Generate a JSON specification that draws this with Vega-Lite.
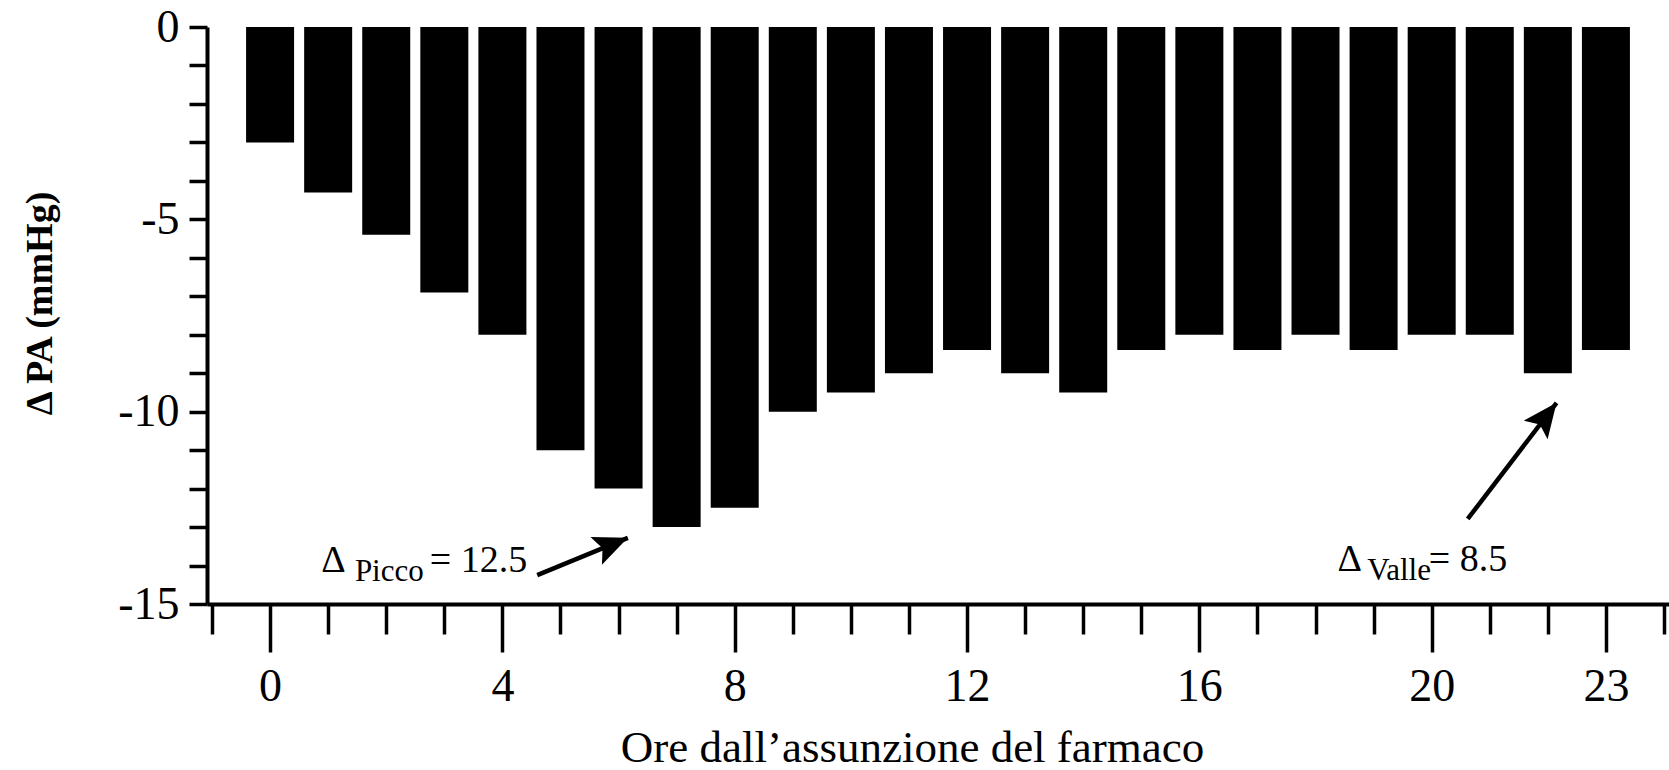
{
  "$schema": "https://vega.github.io/schema/vega-lite/v6.json",
  "width": 1462,
  "height": 577,
  "autosize": {"type": "none"},
  "padding": {"left": 207, "top": 27, "right": 0, "bottom": 166},
  "background": "white",
  "config": {
    "view": {"stroke": null},
    "font": "Liberation Serif",
    "axis": {"grid": false, "domainColor": "black", "tickColor": "black", "labelColor": "black", "titleColor": "black"}
  },
  "datasets": {
    "hours": [
      {"ora": 0, "delta": -3.0},
      {"ora": 1, "delta": -4.3},
      {"ora": 2, "delta": -5.4},
      {"ora": 3, "delta": -6.9},
      {"ora": 4, "delta": -8.0},
      {"ora": 5, "delta": -11.0},
      {"ora": 6, "delta": -12.0},
      {"ora": 7, "delta": -13.0},
      {"ora": 8, "delta": -12.5},
      {"ora": 9, "delta": -10.0},
      {"ora": 10, "delta": -9.5},
      {"ora": 11, "delta": -9.0},
      {"ora": 12, "delta": -8.4},
      {"ora": 13, "delta": -9.0},
      {"ora": 14, "delta": -9.5},
      {"ora": 15, "delta": -8.4},
      {"ora": 16, "delta": -8.0},
      {"ora": 17, "delta": -8.4},
      {"ora": 18, "delta": -8.0},
      {"ora": 19, "delta": -8.4},
      {"ora": 20, "delta": -8.0},
      {"ora": 21, "delta": -8.0},
      {"ora": 22, "delta": -9.0},
      {"ora": 23, "delta": -8.4}
    ],
    "arrows": [
      {"name": "picco", "x": 4.6, "y": -14.25, "x2": 6.16, "y2": -13.28},
      {"name": "valle", "x": 20.62, "y": -12.79, "x2": 22.15, "y2": -9.77}
    ],
    "labels": [
      {"x": 0.88, "y": -14.17, "text": "Δ"},
      {"x": 2.75, "y": -14.17, "text": "= 12.5"},
      {"x": 18.38, "y": -14.15, "text": "Δ"},
      {"x": 19.95, "y": -14.15, "text": "= 8.5"}
    ],
    "subscripts": [
      {"x": 1.46, "y": -14.39, "text": "Picco"},
      {"x": 18.89, "y": -14.37, "text": "Valle"}
    ]
  },
  "layer": [
    {
      "data": {"name": "hours"},
      "mark": {"type": "bar", "color": "black", "size": 48},
      "encoding": {
        "x": {
          "field": "ora",
          "type": "quantitative",
          "scale": {"domain": [-1, 24], "nice": false, "zero": false},
          "axis": {
            "orient": "bottom",
            "values": [-1, 0, 1, 2, 3, 4, 5, 6, 7, 8, 9, 10, 11, 12, 13, 14, 15, 16, 17, 18, 19, 20, 21, 22, 23, 24],
            "tickCount": 40,
            "labelExpr": "((datum.value >= 0 && datum.value <= 20 && datum.value % 4 === 0) || datum.value === 23) ? toString(datum.value) : ''",
            "tickSize": {"condition": {"test": "(datum.value >= 0 && datum.value <= 20 && datum.value % 4 === 0) || datum.value === 23", "value": 48}, "value": 30},
            "tickWidth": 3.5,
            "domainWidth": 4,
            "labelFontSize": 46,
            "labelPadding": 12,
            "labelFlush": false,
            "labelOverlap": false,
            "title": "Ore dall’assunzione del farmaco",
            "titleFontSize": 45,
            "titleFontWeight": "normal",
            "titleBaseline": "alphabetic",
            "titleX": 705,
            "titleY": 157
          }
        },
        "y": {
          "field": "delta",
          "type": "quantitative",
          "scale": {"domain": [-15, 0], "nice": false},
          "axis": {
            "orient": "left",
            "values": [-15, -14, -13, -12, -11, -10, -9, -8, -7, -6, -5, -4, -3, -2, -1, 0],
            "tickCount": 30,
            "labelExpr": "datum.value % 5 === 0 ? toString(datum.value) : ''",
            "tickSize": 18,
            "tickWidth": 3.5,
            "domainWidth": 4,
            "labelFontSize": 46,
            "labelPadding": 10,
            "labelOverlap": false,
            "labelFlush": false,
            "title": "Δ PA (mmHg)",
            "titleFontSize": 38,
            "titleFontWeight": "bold",
            "titleAngle": -90,
            "titleBaseline": "alphabetic",
            "titleAlign": "center",
            "titleX": -156,
            "titleY": 276
          }
        }
      }
    },
    {
      "mark": {"type": "rule", "color": "black", "strokeWidth": 4},
      "encoding": {"y": {"datum": 0, "type": "quantitative"}}
    },
    {
      "data": {"name": "arrows"},
      "mark": {"type": "rule", "color": "black", "strokeWidth": 4.5},
      "encoding": {
        "x": {"field": "x", "type": "quantitative"},
        "y": {"field": "y", "type": "quantitative"},
        "x2": {"field": "x2"},
        "y2": {"field": "y2"}
      }
    },
    {
      "data": {"name": "arrows"},
      "transform": [{"filter": "datum.name === 'picco'"}],
      "mark": {"type": "point", "filled": true, "color": "black", "opacity": 1, "shape": "M0,0 L-0.55,1.25 L0,1.0 L0.55,1.25 Z", "size": 3000, "angle": 67.6},
      "encoding": {
        "x": {"field": "x2", "type": "quantitative"},
        "y": {"field": "y2", "type": "quantitative"}
      }
    },
    {
      "data": {"name": "arrows"},
      "transform": [{"filter": "datum.name === 'valle'"}],
      "mark": {"type": "point", "filled": true, "color": "black", "opacity": 1, "shape": "M0,0 L-0.55,1.25 L0,1.0 L0.55,1.25 Z", "size": 3000, "angle": 37.6},
      "encoding": {
        "x": {"field": "x2", "type": "quantitative"},
        "y": {"field": "y2", "type": "quantitative"}
      }
    },
    {
      "data": {"name": "labels"},
      "mark": {"type": "text", "align": "left", "baseline": "alphabetic", "fontSize": 38, "color": "black", "font": "Liberation Serif"},
      "encoding": {
        "x": {"field": "x", "type": "quantitative"},
        "y": {"field": "y", "type": "quantitative"},
        "text": {"field": "text"}
      }
    },
    {
      "data": {"name": "subscripts"},
      "mark": {"type": "text", "align": "left", "baseline": "alphabetic", "fontSize": 31, "color": "black", "font": "Liberation Serif"},
      "encoding": {
        "x": {"field": "x", "type": "quantitative"},
        "y": {"field": "y", "type": "quantitative"},
        "text": {"field": "text"}
      }
    }
  ]
}
